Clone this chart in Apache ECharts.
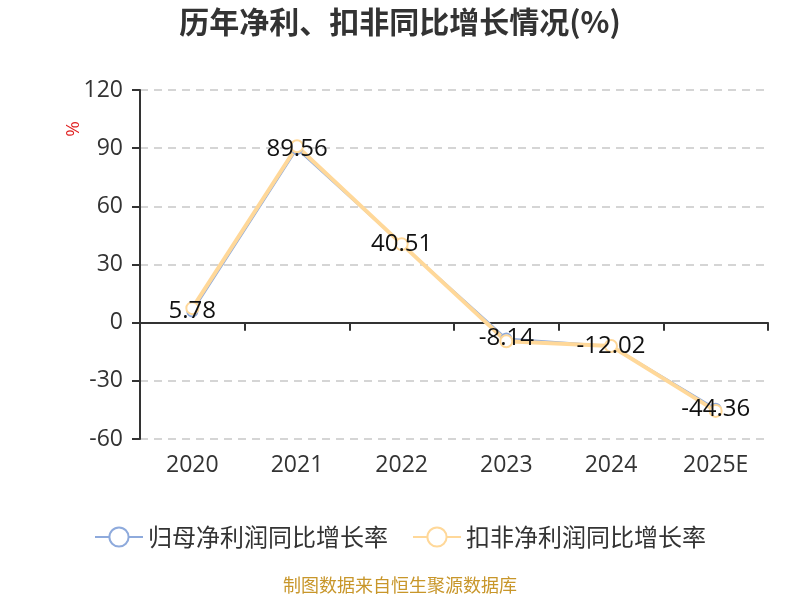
<!DOCTYPE html>
<html>
<head>
<meta charset="utf-8">
<script src="https://cdn.jsdelivr.net/npm/echarts@6/dist/echarts.min.js"></script>
<style>html,body{margin:0;padding:0;background:#fff}#mychart{width:800px;height:600px}</style>
</head>
<body>
<div id="mychart"></div>
<script>
var years = ['2020', '2021', '2022', '2023', '2024', '2025E'];
var netProfitGrowth = [5.78, 89.56, 40.51, -8.14, -12.02, -44.36];
var deductedGrowth = [7.5, 91.0, 40.5, -9.6, -12.0, -45.5];
var yTicks = {min: -60, max: 120, interval: 30};

var font = "'Open Sans','Noto Sans CJK SC',sans-serif";
var cjk = "'Noto Sans CJK SC',sans-serif";
var dom = document.getElementById("mychart");
var mychart = echarts.init(dom);
var option = {
    backgroundColor: '#fff',
    title: {
        text: '历年净利、扣非同比增长情况(%)',
        left: 'center',
        top: 2,
        textStyle: {fontSize: 30, fontWeight: 'bold', color: '#333', fontFamily: cjk}
    },
    legend: {
        bottom: 46,
        left: 'center',
        itemWidth: 48,
        itemHeight: 24,
        itemGap: 24,
        textStyle: {fontSize: 24, color: '#333', fontFamily: cjk},
        data: ['归母净利润同比增长率', '扣非净利润同比增长率']
    },
    graphic: [{
        type: 'text',
        left: 64,
        top: 121,
        rotation: Math.PI / 2,
        style: {text: '%', fill: '#e01f1f', fontSize: 19, fontFamily: font}
    }, {
        type: 'text',
        left: 'center',
        top: 576,
        style: {text: '制图数据来自恒生聚源数据库', fill: '#c8962a', fontSize: 18, fontFamily: cjk}
    }],
    grid: {left: 140, right: 32, top: 90, bottom: 161},
    xAxis: [{
        type: 'category',
        data: years,
        position: 'bottom',
        axisLine: {show: false, onZero: false},
        axisTick: {show: false},
        axisLabel: {fontSize: 23, color: '#333', margin: 15, fontFamily: font}
    }, {
        type: 'category',
        data: years,
        position: 'bottom',
        axisLine: {show: true, onZero: true, lineStyle: {color: '#333', width: 2}},
        axisTick: {show: true, length: 8, lineStyle: {color: '#333', width: 2}},
        axisLabel: {show: false}
    }],
    yAxis: {
        type: 'value',
        min: yTicks.min,
        max: yTicks.max,
        interval: yTicks.interval,
        axisLine: {show: true, lineStyle: {color: '#333', width: 2}},
        axisTick: {show: true, length: 8, lineStyle: {color: '#333', width: 2}},
        axisLabel: {fontSize: 23, color: '#333', margin: 17, fontFamily: font},
        splitLine: {show: true, lineStyle: {type: [8, 6], color: '#c8c8c8', width: 1.5}}
    },
    series: [{
        name: '归母净利润同比增长率',
        type: 'line',
        data: netProfitGrowth,
        symbol: 'emptyCircle',
        symbolSize: 10,
        color: '#8eaadc',
        lineStyle: {width: 2, color: '#8eaadc'},
        itemStyle: {color: '#8eaadc', borderWidth: 2},
        label: {show: true, position: 'inside', fontSize: 24, color: '#111', fontFamily: font}
    }, {
        name: '扣非净利润同比增长率',
        type: 'line',
        data: deductedGrowth,
        symbol: 'emptyCircle',
        symbolSize: 12,
        color: '#ffd899',
        lineStyle: {width: 4, color: '#ffd899'},
        itemStyle: {color: '#ffd899', borderWidth: 2}
    }]
};
mychart.setOption(option, true);
</script>
</body>
</html>
